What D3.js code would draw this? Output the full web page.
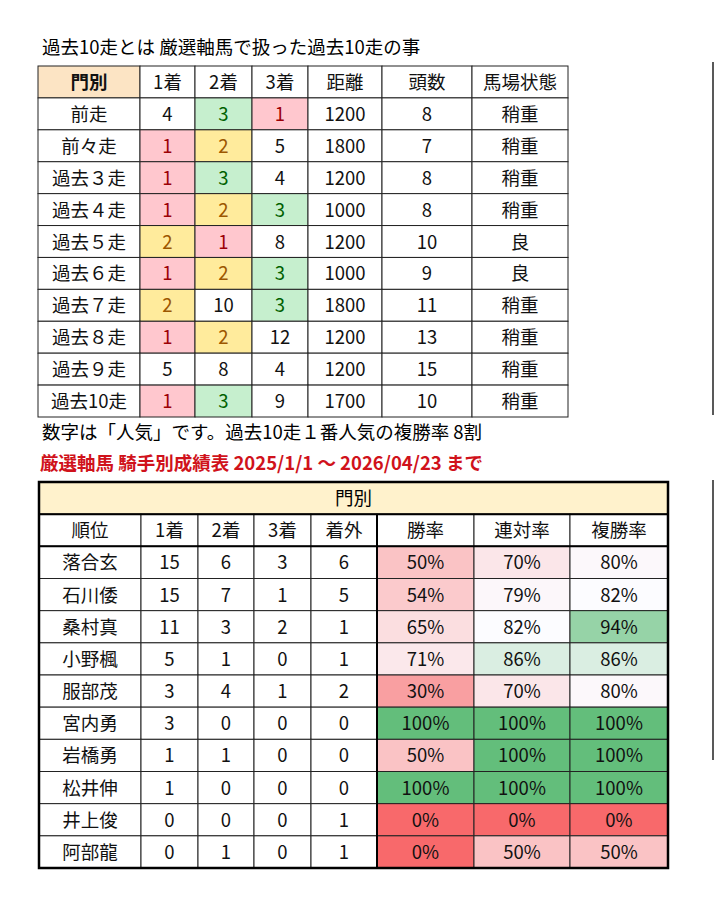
<!DOCTYPE html>
<html><head><meta charset="utf-8">
<script src="https://cdn.jsdelivr.net/npm/d3@7"></script>
<style>
body{margin:0;background:#fff;}
text{font-family:"Noto Sans CJK JP","Noto Sans",sans-serif;}
</style></head>
<body>
<svg id="chart" width="715" height="901"></svg>
<script>
// DATA -----------------------------------------------------------------------
var topHeaders = ["門別", "1着", "2着", "3着", "距離", "頭数", "馬場状態"];
var raceNames = ["前走", "前々走", "過去３走", "過去４走", "過去５走", "過去６走", "過去７走", "過去８走", "過去９走", "過去10走"];
var pop1 = [4, 1, 1, 1, 2, 1, 2, 1, 5, 1];
var pop2 = [3, 2, 3, 2, 1, 2, 10, 2, 8, 3];
var pop3 = [1, 5, 4, 3, 8, 3, 3, 12, 4, 9];
var distance = [1200, 1800, 1200, 1000, 1200, 1000, 1800, 1200, 1200, 1700];
var runners = [8, 7, 8, 8, 10, 9, 11, 13, 15, 10];
var going = ["稍重", "稍重", "稍重", "稍重", "良", "良", "稍重", "稍重", "稍重", "稍重"];

var botHeaders = ["順位", "1着", "2着", "3着", "着外", "勝率", "連対率", "複勝率"];
var jockeys = ["落合玄", "石川倭", "桑村真", "小野楓", "服部茂", "宮内勇", "岩橋勇", "松井伸", "井上俊", "阿部龍"];
var wins = [15, 15, 11, 5, 3, 3, 1, 1, 0, 0];
var seconds = [6, 7, 3, 1, 4, 0, 1, 0, 0, 1];
var thirds = [3, 1, 2, 0, 1, 0, 0, 0, 0, 0];
var others = [6, 5, 1, 1, 2, 0, 0, 0, 1, 1];
var winRate = [50, 54, 65, 71, 30, 100, 50, 100, 0, 0];
var quinellaRate = [70, 79, 82, 86, 70, 100, 100, 100, 0, 50];
var showRate = [80, 82, 94, 86, 80, 100, 100, 100, 0, 50];

// SETUP ----------------------------------------------------------------------
var svg = d3.select("#chart");
var font = 18.5;

svg.append("text").attr("x", 42).attr("y", 54).attr("font-size", font)
    .text("過去10走とは 厳選軸馬で扱った過去10走の事");

// top table
var topEdges = [38, 140, 195, 252, 308, 382, 472, 568];
var topX = d3.scaleOrdinal().domain(d3.range(8)).range(topEdges);
var topY = d3.scaleBand().domain(d3.range(11)).range([66, 417]);
var hlFill = {1: "#ffc7ce", 2: "#ffeb9c", 3: "#c6efce"};
var hlText = {1: "#9c0006", 2: "#9c5700", 3: "#006100"};

var topRows = [topHeaders].concat(raceNames.map(function(n, i) {
    return [n, pop1[i], pop2[i], pop3[i], distance[i], runners[i], going[i]];
}));

var tg = svg.append("g");
topRows.forEach(function(row, r) {
    row.forEach(function(v, c) {
        var x0 = topX(c), x1 = topX(c + 1), y0 = topY(r);
        var hl = r > 0 && c >= 1 && c <= 3 && v <= 3;
        var fill = (r === 0 && c === 0) ? "#fce4c4" : hl ? hlFill[v] : "#fff";
        tg.append("rect").attr("x", x0).attr("y", y0)
            .attr("width", x1 - x0).attr("height", topY.bandwidth())
            .attr("fill", fill).attr("stroke", "#222").attr("stroke-width", 1);
        tg.append("text").attr("x", (x0 + x1) / 2)
            .attr("y", y0 + topY.bandwidth() / 2 + 7)
            .attr("text-anchor", "middle").attr("font-size", font)
            .attr("font-weight", (r === 0 && c === 0) ? "bold" : "normal")
            .attr("fill", hl ? hlText[v] : "#111")
            .text(v);
    });
});

svg.append("text").attr("x", 42).attr("y", 439).attr("font-size", font)
    .text("数字は「人気」です。過去10走１番人気の複勝率 8割");
svg.append("text").attr("x", 40).attr("y", 470).attr("font-size", 18.5)
    .attr("font-weight", "bold").attr("fill", "#d0121b")
    .text("厳選軸馬 騎手別成績表 2025/1/1 ～ 2026/04/23 まで");

// bottom table
var botEdges = [39, 141, 198, 254, 311, 377, 474, 570, 668];
var botX = d3.scaleOrdinal().domain(d3.range(9)).range(botEdges);
var botY = d3.scaleBand().domain(d3.range(12)).range([482, 868]);
var bh = botY.bandwidth();

var rateColor = d3.scaleLinear().domain([0, 82, 100])
    .range(["#f8696b", "#fcfcff", "#63be7b"]);

var bg = svg.append("g");
bg.append("rect").attr("x", botX(0)).attr("y", botY(0))
    .attr("width", botX(8) - botX(0)).attr("height", bh)
    .attr("fill", "#fff2cc").attr("stroke", "#222");
bg.append("text").attr("x", (botX(0) + botX(8)) / 2).attr("y", botY(0) + bh / 2 + 7)
    .attr("text-anchor", "middle").attr("font-size", font).text("門別");

var botRows = [botHeaders].concat(jockeys.map(function(n, i) {
    return [n, wins[i], seconds[i], thirds[i], others[i], winRate[i], quinellaRate[i], showRate[i]];
}));
botRows.forEach(function(row, r) {
    row.forEach(function(v, c) {
        var x0 = botX(c), x1 = botX(c + 1), y0 = botY(r + 1);
        var fill = (r > 0 && c >= 5) ? rateColor(v) : "#fff";
        bg.append("rect").attr("x", x0).attr("y", y0)
            .attr("width", x1 - x0).attr("height", bh)
            .attr("fill", fill).attr("stroke", "#222").attr("stroke-width", 1);
        bg.append("text").attr("x", (x0 + x1) / 2).attr("y", y0 + bh / 2 + 7)
            .attr("text-anchor", "middle").attr("font-size", font).attr("fill", "#111")
            .text(r > 0 && c >= 5 ? v + "%" : v);
    });
});
// thick lines
bg.append("rect").attr("x", botX(0)).attr("y", botY(0))
    .attr("width", botX(8) - botX(0)).attr("height", botY(11) + bh - botY(0))
    .attr("fill", "none").attr("stroke", "#000").attr("stroke-width", 2.5);
bg.append("line").attr("x1", botX(0)).attr("x2", botX(8))
    .attr("y1", botY(1)).attr("y2", botY(1)).attr("stroke", "#000").attr("stroke-width", 2);
bg.append("line").attr("x1", botX(0)).attr("x2", botX(8))
    .attr("y1", botY(2)).attr("y2", botY(2)).attr("stroke", "#000").attr("stroke-width", 2);
bg.append("line").attr("x1", botX(5)).attr("x2", botX(5))
    .attr("y1", botY(1)).attr("y2", botY(11) + bh).attr("stroke", "#000").attr("stroke-width", 2);

// page edge line at right
svg.append("line").attr("x1", 713).attr("x2", 713).attr("y1", 62).attr("y2", 415)
    .attr("stroke", "#222").attr("stroke-width", 1.5);
svg.append("line").attr("x1", 713).attr("x2", 713).attr("y1", 480).attr("y2", 760)
    .attr("stroke", "#222").attr("stroke-width", 1.5);
</script>
</body></html>
